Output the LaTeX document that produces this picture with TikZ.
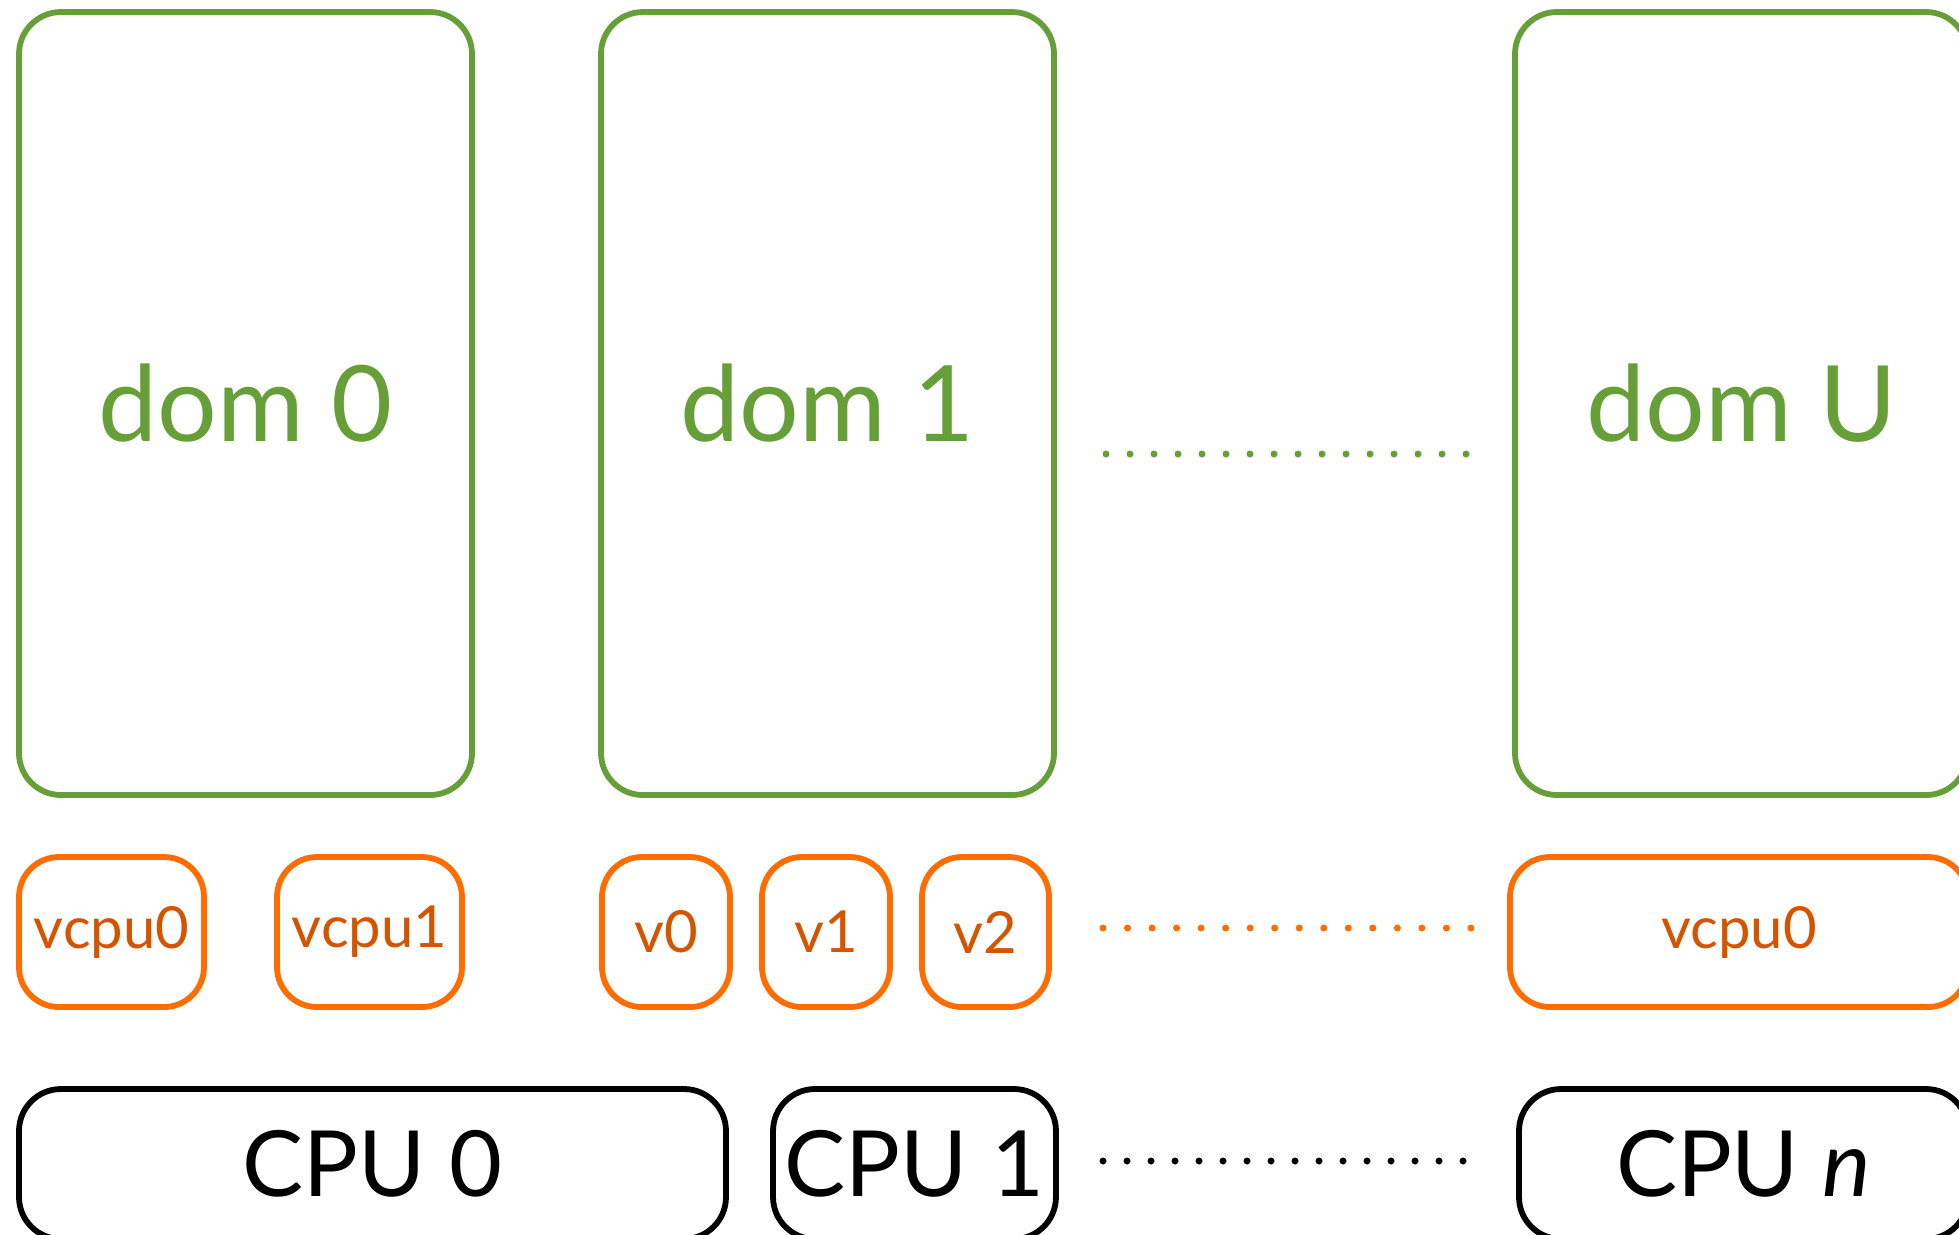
\documentclass[tikz,border=0pt]{standalone}
\usepackage{fontspec}
\setmainfont{Lato}
\usetikzlibrary{positioning}
\definecolor{domgreen}{RGB}{102,158,56}
\definecolor{vorange}{RGB}{255,108,0}
\definecolor{vtext}{RGB}{212,85,0}
\begin{document}
\begin{tikzpicture}[dombox/.style={draw=domgreen, line width=0.058cm, rounded corners=0.42cm,
	minimum height=7.83cm, minimum width=4.53cm, text=domgreen, font=\fontsize{30}{30}\selectfont},
	vbox/.style={draw=vorange, line width=0.058cm, rounded corners=0.4cm,
	minimum height=1.5cm, text=vtext, font=\fontsize{16.5}{16.5}\selectfont},
	cpubox/.style={draw=black, line width=0.058cm, rounded corners=0.42cm,
	minimum height=1.5cm, font=\fontsize{26}{26}\selectfont}]
\useasboundingbox (0,0) rectangle (19.59,-12.34);
% domains
\node [dombox] (dom0) at (2.455,-4.035) {dom 0};
\node [dombox] (dom1) at (8.275,-4.035) {dom 1};
\node [dombox] (domU) at (17.415,-4.035) {dom U};
% virtual cpus
\node [vbox, minimum width=1.85cm] (vcpu00) at (1.115,-9.32) {vcpu0};
\node [vbox, minimum width=1.85cm] (vcpu01) at (3.695,-9.32) {vcpu1};
\node [vbox, minimum width=1.28cm] (v0) at (6.66,-9.32) {v0};
\node [vbox, minimum width=1.28cm] (v1) at (8.26,-9.32) {v1};
\node [vbox, minimum width=1.27cm] (v2) at (9.855,-9.32) {v2};
\node [vbox, minimum width=4.58cm] (vcpuU0) at (17.39,-9.32) {vcpu0};
% physical cpus
\node [cpubox, minimum width=7.07cm] (cpu0) at (3.725,-11.64) {CPU 0};
\node [cpubox, minimum width=2.79cm] (cpu1) at (9.145,-11.64) {CPU 1};
\node [cpubox, minimum width=4.49cm] (cpun) at (17.435,-11.64) {CPU \textit{n}};
% dots
\foreach \i in {0,...,15} {
	\fill [domgreen] (11.06+0.24*\i,-4.54) circle (0.035);
	\fill [vorange] (11.03+0.2453*\i,-9.28) circle (0.035);
	\fill [black] (11.03+0.24*\i,-11.61) circle (0.035);
}
\end{tikzpicture}
\end{document}
